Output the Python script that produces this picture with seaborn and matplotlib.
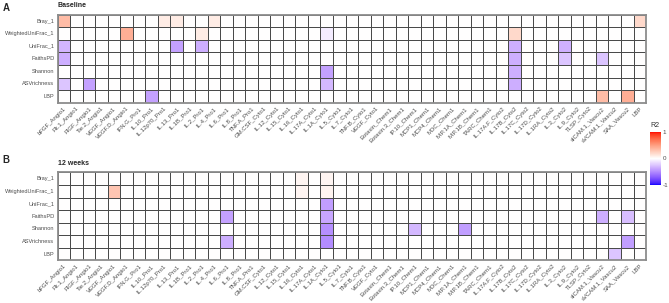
import numpy as np
import pandas as pd
import matplotlib
matplotlib.use("Agg")
import matplotlib.pyplot as plt
import seaborn as sns
from matplotlib.colors import ListedColormap, Normalize

# linhas e colunas do heatmap
linhas = ["Bray_1", "WeightedUniFrac_1", "UniFrac_1", "FaithsPD", "Shannon", "ASVrichness", "LBP"]
colunas = ["bFGF_Angio1", "Flt.1_Angio1", "PlGF_Angio1", "Tie.2_Angio1", "VEGF_Angio1", "VEGF.D_Angio1",
           "IFN.G_Pro1", "IL.10_Pro1", "IL.12p70_Pro1", "IL.13_Pro1", "IL.1B_Pro1", "IL.2_Pro1",
           "IL.4_Pro1", "IL.6_Pro1", "IL.8_Pro1", "TNF.A_Pro1",
           "GM.CSF_Cyto1", "IL.12_Cyto1", "IL.15_Cyto1", "IL.16_Cyto1", "IL.17A_Cyto1", "IL.1A_Cyto1",
           "IL.5_Cyto1", "IL.7_Cyto1", "TNF.B_Cyto1", "VEGF_Cyto1",
           "Eotaxin_Chem1", "Eotaxin.3_Chem1", "IP.10_Chem1", "MCP1_Chem1", "MCP4_Chem1", "MDC_Chem1",
           "MIP.1A_Chem1", "MIP.1B_Chem1", "TARC_Chem1",
           "IL.17A.F_Cyto2", "IL.17B_Cyto2", "IL.17C_Cyto2", "IL.17D_Cyto2", "IL.1RA_Cyto2", "IL.3_Cyto2",
           "IL.9_Cyto2", "TLSP_Cyto2",
           "sICAM.1_Vascu2", "sVCAM.1_Vascu2", "SAA_Vascu2", "LBP"]

# celulas significativas (linha, coluna, R2) - o resto fica 0 (branco)
baseline = [
    ("Bray_1", "bFGF_Angio1", 0.35), ("Bray_1", "IL.12p70_Pro1", 0.1), ("Bray_1", "IL.13_Pro1", 0.1),
    ("Bray_1", "IL.4_Pro1", 0.1), ("Bray_1", "LBP", 0.2),
    ("WeightedUniFrac_1", "VEGF.D_Angio1", 0.42), ("WeightedUniFrac_1", "IL.2_Pro1", 0.1),
    ("WeightedUniFrac_1", "IL.1A_Cyto1", -0.08), ("WeightedUniFrac_1", "IL.17B_Cyto2", 0.2),
    ("UniFrac_1", "bFGF_Angio1", -0.32), ("UniFrac_1", "IL.13_Pro1", -0.4), ("UniFrac_1", "IL.2_Pro1", -0.35),
    ("UniFrac_1", "IL.17B_Cyto2", -0.35), ("UniFrac_1", "IL.3_Cyto2", -0.33),
    ("FaithsPD", "bFGF_Angio1", -0.35), ("FaithsPD", "IL.17B_Cyto2", -0.35), ("FaithsPD", "IL.3_Cyto2", -0.25),
    ("FaithsPD", "sICAM.1_Vascu2", -0.25),
    ("Shannon", "IL.1A_Cyto1", -0.4), ("Shannon", "IL.17B_Cyto2", -0.35),
    ("ASVrichness", "bFGF_Angio1", -0.25), ("ASVrichness", "PlGF_Angio1", -0.4),
    ("ASVrichness", "IL.1A_Cyto1", -0.3), ("ASVrichness", "IL.17B_Cyto2", -0.35),
    ("LBP", "IL.10_Pro1", -0.4), ("LBP", "sICAM.1_Vascu2", 0.35), ("LBP", "SAA_Vascu2", 0.42),
]
semana12 = [
    ("Bray_1", "IL.16_Cyto1", 0.05), ("Bray_1", "IL.1A_Cyto1", 0.05),
    ("WeightedUniFrac_1", "VEGF_Angio1", 0.3), ("WeightedUniFrac_1", "IL.16_Cyto1", 0.05),
    ("WeightedUniFrac_1", "IL.1A_Cyto1", 0.06),
    ("UniFrac_1", "IL.1A_Cyto1", -0.42),
    ("FaithsPD", "IL.6_Pro1", -0.4), ("FaithsPD", "IL.1A_Cyto1", -0.38), ("FaithsPD", "sICAM.1_Vascu2", -0.35),
    ("FaithsPD", "SAA_Vascu2", -0.28),
    ("Shannon", "IL.1A_Cyto1", -0.48), ("Shannon", "IP.10_Chem1", -0.3), ("Shannon", "MIP.1A_Chem1", -0.42),
    ("ASVrichness", "IL.6_Pro1", -0.35), ("ASVrichness", "IL.1A_Cyto1", -0.5), ("ASVrichness", "SAA_Vascu2", -0.42),
    ("LBP", "sVCAM.1_Vascu2", -0.25),
]


def montar_tabela(celulas):
    df = pd.DataFrame(0.0, index=linhas, columns=colunas)
    for r, c, v in celulas:
        df.loc[r, c] = v
    return df


# paleta azul-branco-vermelho interpolada em Lab (parecido com o ggplot)
def rgb2lab(rgb):
    c = np.asarray(rgb, float)
    lin = np.where(c <= 0.04045, c / 12.92, ((c + 0.055) / 1.055) ** 2.4)
    M = np.array([[0.4124, 0.3576, 0.1805], [0.2126, 0.7152, 0.0722], [0.0193, 0.1192, 0.9505]])
    xyz = M @ lin / np.array([0.95047, 1.0, 1.08883])
    f = np.where(xyz > 0.008856, np.cbrt(xyz), 7.787 * xyz + 16 / 116)
    return np.array([116 * f[1] - 16, 500 * (f[0] - f[1]), 200 * (f[1] - f[2])])


def lab2rgb(lab):
    L, a, b = lab
    fy = (L + 16) / 116
    f = np.array([fy + a / 500, fy, fy - b / 200])
    xyz = np.where(f ** 3 > 0.008856, f ** 3, (f - 16 / 116) / 7.787) * np.array([0.95047, 1.0, 1.08883])
    Mi = np.array([[3.2406, -1.5372, -0.4986], [-0.9689, 1.8758, 0.0415], [0.0557, -0.2040, 1.0570]])
    lin = Mi @ xyz
    c = np.where(lin <= 0.0031308, 12.92 * lin, 1.055 * np.clip(lin, 0, None) ** (1 / 2.4) - 0.055)
    return np.clip(c, 0, 1)


azul, branco, verm = rgb2lab([0, 0, 1]), rgb2lab([1, 1, 1]), rgb2lab([1, 0, 0])
cores = []
for t in np.linspace(-1, 1, 256):
    if t < 0:
        cores.append(lab2rgb(branco + (azul - branco) * (-t)))
    else:
        cores.append(lab2rgb(branco + (verm - branco) * t))
paleta = ListedColormap(cores)

sns.set_style("white")
plt.rcParams["font.family"] = ["Liberation Sans", "DejaVu Sans"]

fig = plt.figure(figsize=(6.69, 3.03), dpi=100)
ax_a = fig.add_axes([0.086, 0.661, 0.8797, 0.2904])
ax_b = fig.add_axes([0.086, 0.141, 0.8797, 0.2898])
cax = fig.add_axes([0.9716, 0.3894, 0.0164, 0.175])

for ax, dados, titulo in [(ax_a, baseline, "Baseline"), (ax_b, semana12, "12 weeks")]:
    sns.heatmap(montar_tabela(dados), ax=ax, cmap=paleta, vmin=-1, vmax=1, cbar=False,
                linewidths=0.7, linecolor="#4a4a4a", xticklabels=True, yticklabels=True)
    ax.set_xticks(np.arange(len(colunas)) + 0.5)
    ax.set_xticklabels(colunas, rotation=45, ha="right", rotation_mode="anchor",
                       fontsize=4.3, color="#4d4d4d")
    ax.set_yticks(np.arange(len(linhas)) + 0.5)
    ax.set_yticklabels(linhas, rotation=0, fontsize=4.1, color="#4d4d4d")
    ax.tick_params(length=1.5, width=0.5, color="#555555", pad=0.8)
    for s in ax.spines.values():
        s.set_visible(True)
        s.set_color("#8c8c8c")
        s.set_linewidth(1.3)
    ax.set_xlabel("")
    ax.set_ylabel("")
    ax.text(0, 1.06, titulo, transform=ax.transAxes, fontsize=5, fontweight="bold",
            ha="left", va="bottom")

fig.text(0.004, 0.99, "A", fontsize=7, fontweight="bold", va="top")
fig.text(0.004, 0.49, "B", fontsize=7, fontweight="bold", va="top")

# barra de cores
sm = plt.cm.ScalarMappable(norm=Normalize(-1, 1), cmap=paleta)
cb = fig.colorbar(sm, cax=cax, ticks=[-1, 0, 1])
cb.outline.set_visible(False)
cb.ax.tick_params(length=0, labelsize=4.5, pad=1, labelcolor="#4d4d4d")
cb.ax.set_yticklabels(["-1", "0", "1"])
fig.text(0.9716, 0.575, "R2", fontsize=5, color="#333333", va="bottom")

fig.savefig("out.png", dpi=100)
